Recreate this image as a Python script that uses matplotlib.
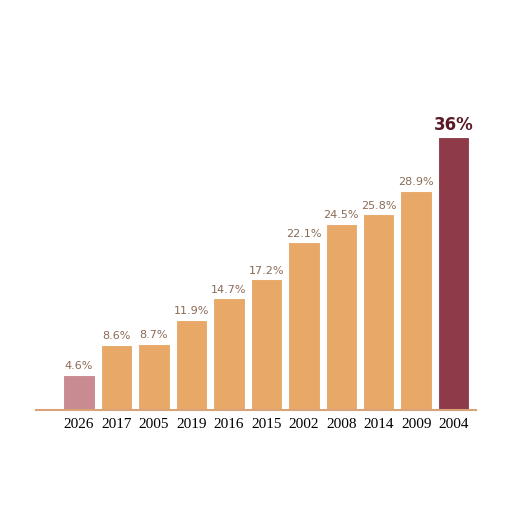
import matplotlib
matplotlib.use("Agg")
import matplotlib.pyplot as plt

years = ["2026","2017","2005","2019","2016","2015","2002","2008","2014","2009","2004"]
values = [4.6, 8.6, 8.7, 11.9, 14.7, 17.2, 22.1, 24.5, 25.8, 28.9, 36.0]
colors = ["#C98A92"] + ["#E8A868"]*9 + ["#8E3A48"]

fig = plt.figure(figsize=(5.12,5.12), dpi=100)
ax = fig.add_axes([0.07, 0.2, 0.86, 0.6])
x = range(len(years))
ax.bar(x, values, width=0.84, color=colors, edgecolor="white", linewidth=0.8)
for i, v in enumerate(values):
    if i == len(values)-1:
        ax.text(i, v+0.4, "36%", ha="center", va="bottom", fontsize=12, fontweight="bold", color="#5a1a28")
    else:
        ax.text(i, v+0.5, f"{v:.1f}%", ha="center", va="bottom", fontsize=8, color="#8a6a55")
ax.set_xticks(list(x))
ax.set_xticklabels(years, fontsize=11, family="Liberation Serif")
ax.set_yticks([])
for s in ["top","right","left"]:
    ax.spines[s].set_visible(False)
ax.spines["bottom"].set_color("#d9a37a")
ax.spines["bottom"].set_linewidth(1.5)
ax.tick_params(axis="x", length=0, pad=6)
ax.set_xlim(-1.15, 10.6)
ax.set_ylim(0, 40.6)
fig.savefig("out.png", dpi=100)
